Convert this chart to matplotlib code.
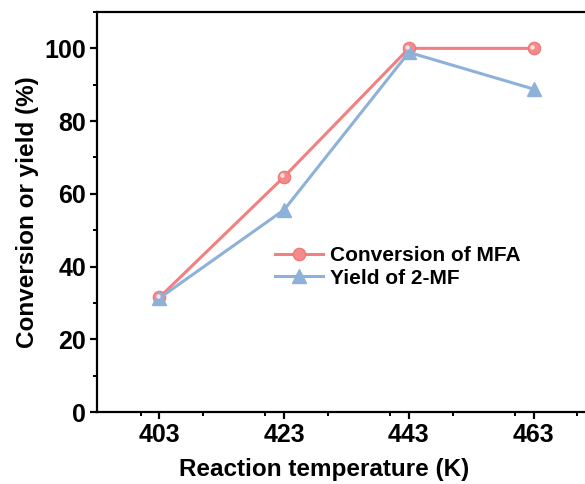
import matplotlib
matplotlib.use("Agg")
import matplotlib.pyplot as plt
from matplotlib.ticker import MultipleLocator
from matplotlib.transforms import offset_copy

plt.rcParams['font.family'] = ['Liberation Sans', 'DejaVu Sans']
plt.rcParams['font.weight'] = 'bold'

temps = [403, 423, 443, 463]
conversion = [31.5, 64.7, 100.0, 100.0]
yield_2mf = [31.3, 55.6, 98.9, 88.8]

red = '#F28080'
blue = '#8EB1DA'

fig = plt.figure(figsize=(5.85, 4.84), dpi=100)
ax = fig.add_axes([97/585, 72/484, 499/585, 400/484])

ax.plot(temps, conversion, color=red, lw=2.2, marker='o', ms=9,
        mfc='#F58A8A', mec='#EC7676', mew=0.8, label='Conversion of MFA', zorder=3)
hl = offset_copy(ax.transData, fig=fig, x=-1.2, y=1.2, units='points')
ax.plot(temps, conversion, ls='none', marker='o', ms=3.2, mfc='#FFE0E0', mec='none',
        transform=hl, zorder=4)
ax.plot(temps, yield_2mf, color=blue, lw=2.2, marker='^', ms=10,
        mfc=blue, mec=blue, label='Yield of 2-MF', zorder=3)

ax.set_xlim(393, 473)
ax.set_ylim(0, 110)
ax.set_xticks(temps)
ax.xaxis.set_minor_locator(MultipleLocator(10))
ax.yaxis.set_major_locator(MultipleLocator(20))
ax.yaxis.set_minor_locator(MultipleLocator(10))
for s in ax.spines.values():
    s.set_linewidth(1.6)
ax.tick_params(which='major', direction='out', length=5, width=1.6, labelsize=18, pad=3)
ax.tick_params(which='minor', direction='out', length=3, width=1.4)
for lab in ax.get_xticklabels() + ax.get_yticklabels():
    lab.set_fontweight('bold')

ax.set_xlabel('Reaction temperature (K)', fontsize=17.5, fontweight='bold', labelpad=3)
ax.set_ylabel('Conversion or yield (%)', fontsize=17.5, fontweight='bold', labelpad=4)
ax.xaxis.set_label_coords(0.455, -0.115)

ax.legend(loc='center left', bbox_to_anchor=(0.357, 0.3625), frameon=False,
          handlelength=2.3, handletextpad=0.33, labelspacing=0.16,
          borderpad=0, borderaxespad=0,
          prop={'weight': 'bold', 'size': 15})

fig.savefig('out.png', dpi=100)
